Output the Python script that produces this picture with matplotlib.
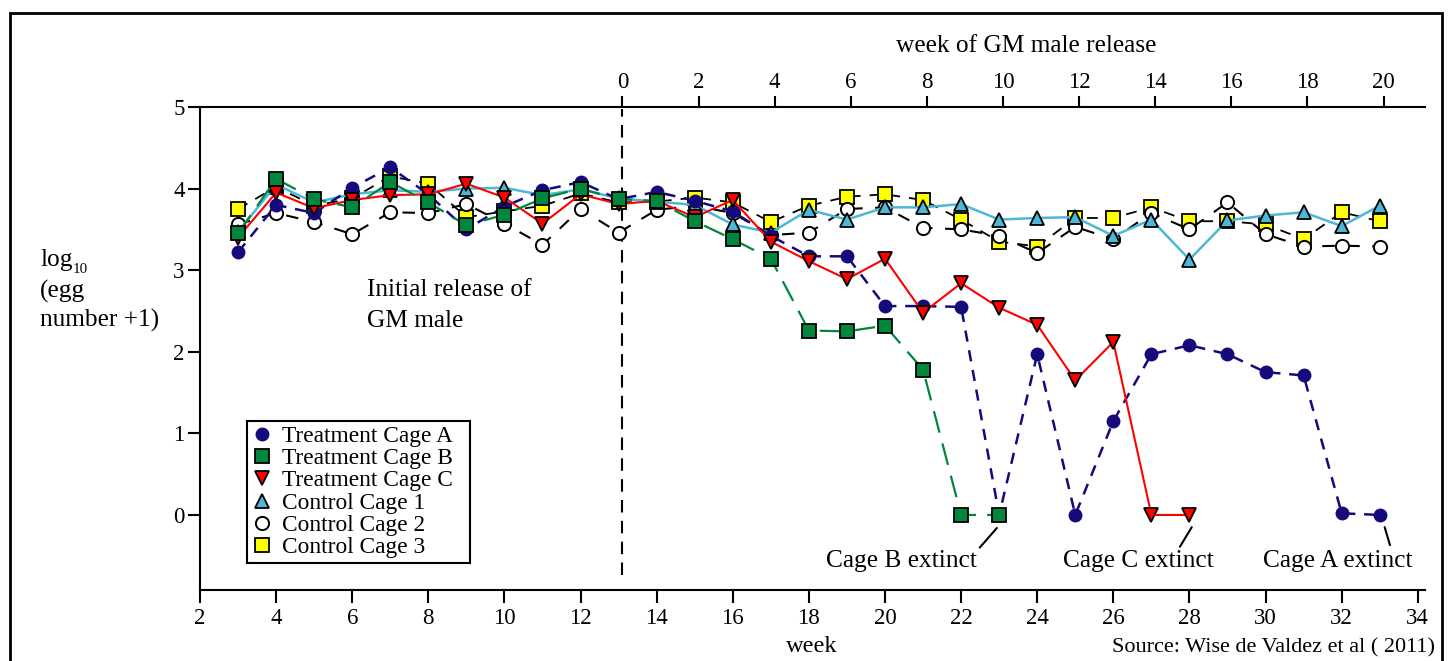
import numpy as np
import matplotlib
matplotlib.use('Agg')
import matplotlib.pyplot as plt
from matplotlib.lines import Line2D
from matplotlib.patches import Rectangle

plt.rcParams['font.family'] = ['Liberation Serif', 'DejaVu Serif']

# weeks of the trial
weeks_a = list(range(3, 34))
cage_a = [3.22, 3.80, 3.70, 4.01, 4.26, 3.93, 3.50, 3.78, 3.98, 4.08, 3.87, 3.96, 3.85, 3.72, 3.42,
          3.17, 3.17, 2.56, 2.56, 2.55, 0.0, 1.97, 0.0, 1.15, 1.97, 2.08, 1.97, 1.75, 1.71, 0.02, 0.0]
weeks_b = list(range(3, 24))
cage_b = [3.45, 4.12, 3.87, 3.77, 4.08, 3.83, 3.55, 3.68, 3.88, 4.00, 3.87, 3.85, 3.60, 3.38, 3.14,
          2.26, 2.25, 2.32, 1.78, 0.0, 0.0]
weeks_c = list(range(3, 29))
cage_c = [3.40, 3.95, 3.76, 3.86, 3.92, 3.93, 4.06, 3.89, 3.57, 3.93, 3.81, 3.85, 3.65, 3.86, 3.35,
          3.11, 2.89, 3.14, 2.48, 2.84, 2.54, 2.33, 1.65, 2.12, 0.0, 0.0]
weeks_ctrl = list(range(3, 34))
control1 = [3.47, 4.05, 3.83, 3.93, 3.98, 3.96, 4.00, 4.01, 3.92, 3.99, 3.88, 3.84, 3.80, 3.56, 3.46,
            3.74, 3.62, 3.77, 3.77, 3.81, 3.62, 3.64, 3.65, 3.42, 3.62, 3.13, 3.61, 3.67, 3.71, 3.54, 3.79]
control2 = [3.56, 3.70, 3.59, 3.44, 3.71, 3.70, 3.81, 3.57, 3.31, 3.75, 3.46, 3.74, 3.79, 3.70, 3.43,
            3.46, 3.75, 3.77, 3.52, 3.50, 3.42, 3.21, 3.53, 3.38, 3.70, 3.50, 3.83, 3.44, 3.29, 3.30, 3.29]
control3 = [3.75, 4.02, 3.79, 3.88, 4.15, 4.06, 3.65, 3.72, 3.79, 3.94, 3.83, 3.84, 3.89, 3.83, 3.59,
            3.79, 3.90, 3.93, 3.86, 3.62, 3.35, 3.29, 3.64, 3.64, 3.77, 3.60, 3.60, 3.56, 3.38, 3.71, 3.60]

release_week = 13.1   # where week 0 of GM release sits on the trial axis
labels = ['Treatment Cage A', 'Treatment Cage B', 'Treatment Cage C',
          'Control Cage 1', 'Control Cage 2', 'Control Cage 3']

W, H = 1453, 661
fig = plt.figure(figsize=(W / 100, H / 100), dpi=100)
ax = fig.add_axes([200 / W, 1 - 590 / H, 1225 / W, 483 / H])

navy = '#140a7c'
green = '#00873d'
red = '#ff0000'
cyan = '#4cb8d6'
yellow = '#ffff00'

# controls first (underneath)
ax.plot(weeks_ctrl, control3, color='black', lw=1.3, dashes=(6, 5),
        marker='s', ms=10, mfc=yellow, mec='black', mew=1.3, zorder=2)
ax.plot(weeks_ctrl, control2, color='black', lw=1.5, dashes=(6, 6),
        marker='o', ms=9.5, mfc='white', mec='black', mew=1.4, zorder=3)
ax.plot(weeks_ctrl, control1, color=cyan, lw=1.8, ls='-',
        marker='^', ms=10, mfc=cyan, mec='black', mew=1.3, zorder=4)
ax.plot(weeks_a, cage_a, color=navy, lw=1.8, dashes=(4.5, 3.5),
        marker='o', ms=10, mfc=navy, mec=navy, mew=0, zorder=5)
ax.plot(weeks_c, cage_c, color=red, lw=1.5, ls='-',
        marker='v', ms=10.5, mfc=red, mec='black', mew=1.3, zorder=6)
ax.plot(weeks_b, cage_b, color=green, lw=1.6, dashes=(10, 5),
        marker='s', ms=10, mfc=green, mec='black', mew=1.3, zorder=7)

# release marker
ax.plot([release_week, release_week], [-0.74, 4.97], color='black', lw=1.5, dashes=(6, 4), zorder=1)

ax.set_xlim(2, 34.19)
ax.set_ylim(-0.92, 5)
ax.set_xticks(np.arange(2, 35, 2))
ax.set_yticks(np.arange(0, 6, 1))
for s in ['right', 'top']:
    ax.spines[s].set_visible(False)
for s in ['left', 'bottom']:
    ax.spines[s].set_linewidth(1.5)
ax.tick_params(axis='both', direction='out', length=9, width=1.5, labelsize=16.5)
ax.tick_params(axis='x', pad=4)
ax.tick_params(axis='y', pad=2)

sec = ax.secondary_xaxis('top', functions=(lambda x: x - release_week, lambda x: x + release_week))
sec.set_xticks(np.arange(0, 21, 2))
sec.spines['top'].set_linewidth(1.5)
sec.tick_params(direction='out', length=8, width=1.5, labelsize=16.5, pad=2)

# legend
handles = [
    Line2D([], [], ls='none', marker='o', ms=10, mfc=navy, mec=navy, mew=0),
    Line2D([], [], ls='none', marker='s', ms=10, mfc=green, mec='black', mew=1.3),
    Line2D([], [], ls='none', marker='v', ms=10.5, mfc=red, mec='black', mew=1.3),
    Line2D([], [], ls='none', marker='^', ms=10, mfc=cyan, mec='black', mew=1.3),
    Line2D([], [], ls='none', marker='o', ms=9.5, mfc='white', mec='black', mew=1.4),
    Line2D([], [], ls='none', marker='s', ms=10, mfc=yellow, mec='black', mew=1.3),
]
leg = ax.legend(handles, labels, loc='lower left', bbox_to_anchor=(0.0384, 0.056, 0.182, 0.3),
                mode='expand', fontsize=16.8, frameon=True, fancybox=False, framealpha=1,
                edgecolor='black', borderpad=0.2, labelspacing=0.04, handlelength=0.9,
                handletextpad=0.4, borderaxespad=0)
leg.get_frame().set_linewidth(1.5)

# extinction notes
fs = 18.3
def px(x, y):
    return x / W, 1 - y / H

fig.text(*px(901, 567), 'Cage B extinct', fontsize=fs, ha='center', va='baseline')
fig.text(*px(1138, 567), 'Cage C extinct', fontsize=fs, ha='center', va='baseline')
fig.text(*px(1338, 567), 'Cage A extinct', fontsize=fs, ha='center', va='baseline')
ax.annotate('', xy=(22.94, -0.16), xytext=(22.49, -0.40),
            arrowprops=dict(arrowstyle='-', color='black', lw=1.5, shrinkA=0, shrinkB=0))
ax.annotate('', xy=(28.06, -0.15), xytext=(27.75, -0.39),
            arrowprops=dict(arrowstyle='-', color='black', lw=1.5, shrinkA=0, shrinkB=0))
ax.annotate('', xy=(33.13, -0.15), xytext=(33.27, -0.37),
            arrowprops=dict(arrowstyle='-', color='black', lw=1.5, shrinkA=0, shrinkB=0))

fig.text(*px(367, 296), 'Initial release of', fontsize=fs, ha='left', va='baseline')
fig.text(*px(367, 327), 'GM male', fontsize=fs, ha='left', va='baseline')

# axis labels
fig.text(*px(40, 266), 'log', fontsize=fs, ha='left', va='baseline')
fig.text(*px(73, 273), '10', fontsize=10.8, ha='left', va='baseline')
fig.text(*px(40, 298), '(egg', fontsize=fs, ha='left', va='baseline')
fig.text(*px(40, 327), 'number +1)', fontsize=fs, ha='left', va='baseline')
fig.text(*px(1026, 52), 'week of GM male release', fontsize=fs, ha='center', va='baseline')
fig.text(*px(812, 652), 'week', fontsize=17.6, ha='center', va='baseline')
fig.text(*px(1435, 652), 'Source: Wise de Valdez et al ( 2011)', fontsize=16, ha='right', va='baseline')

# outer frame
fig.patches.append(Rectangle((10 / W, -0.05), 1432 / W, 1 - 13 / H + 0.05, transform=fig.transFigure,
                             fill=False, lw=2, edgecolor='black', clip_on=False))

fig.savefig('out.png', dpi=100)
